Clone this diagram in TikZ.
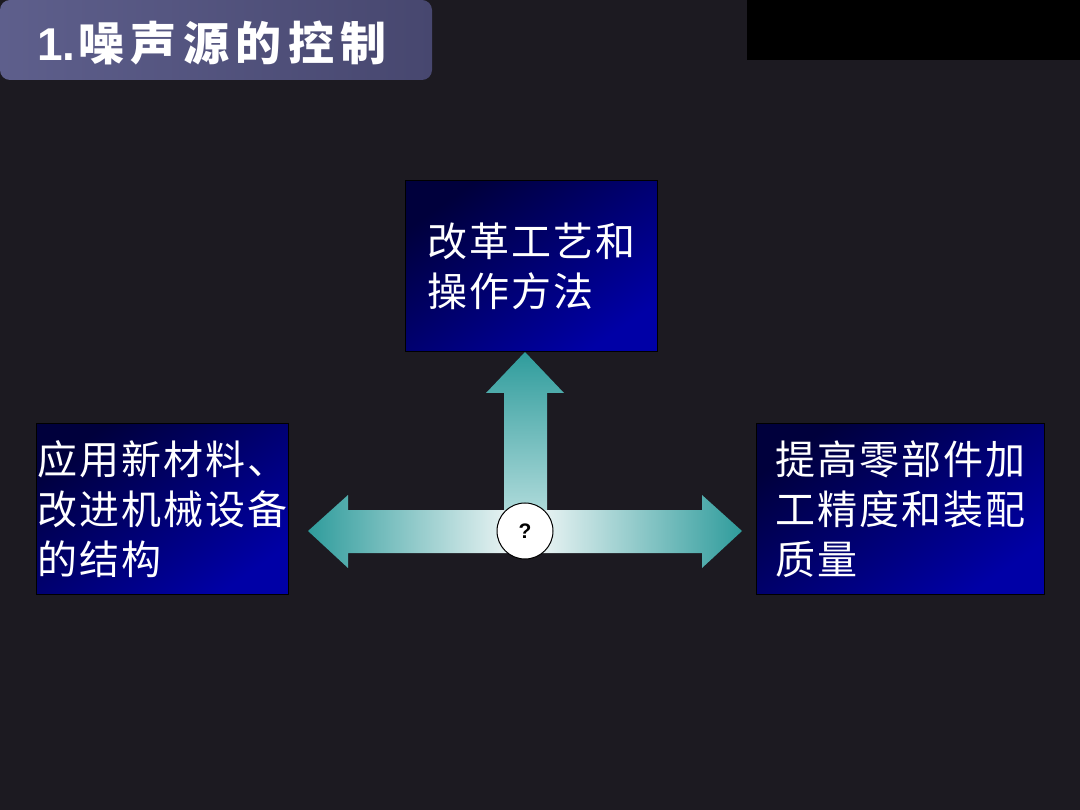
\documentclass[tikz,border=0pt]{standalone}
\usepackage{fontspec}
\setmainfont{Noto Sans CJK SC}
\newfontfamily\latinbold{Liberation Sans}
\definecolor{bgdark}{HTML}{1C1A21}
\definecolor{titleA}{HTML}{5E5F8C}
\definecolor{titleB}{HTML}{47476F}
\definecolor{navyA}{HTML}{00003C}
\definecolor{navyB}{HTML}{0000A6}
\definecolor{tealA}{HTML}{2F9C9C}
\definecolor{tealL}{HTML}{AEDADA}
\definecolor{arrowmid}{HTML}{F8FAFA}
\tikzset{
  bluebox/.style={draw=black, line width=1pt, top color=navyA, bottom color=navyB, shading angle=35,
    text=white, align=left, font=\fontsize{40}{50}\selectfont\addfontfeature{LetterSpace=5}, inner sep=0pt, anchor=north west},
}
\begin{document}
\begin{tikzpicture}[x=1pt,y=-1pt]
\useasboundingbox (0,0) rectangle (1080,810);
\fill[bgdark] (0,0) rectangle (1080,810);
% title
\shade[left color=titleA, right color=titleB, rounded corners=10pt] (0,0) rectangle (432,80);
\node[text=white, anchor=west, inner sep=0pt, font=\fontsize{46}{50}\selectfont\bfseries] (title) at (37,43)
  {{\latinbold\bfseries 1.}\hspace{3pt}{\addfontfeature{LetterSpace=14}噪声源的控制}};
% black rectangle top right
\fill[black] (747,0) rectangle (1080,60);
% boxes
\node[bluebox, minimum width=252pt, minimum height=171pt] (top) at (405,180) {改革工艺和\\操作方法};
\node[bluebox, minimum width=252pt, minimum height=171pt] (left) at (36,423) {应用新材料、\\改进机械设备\\的结构};
\node[bluebox, minimum width=288pt, minimum height=171pt] (right) at (756,423) {提高零部件加\\工精度和装配\\质量};
% vertical arrow
\shade[top color=tealA, bottom color=tealL]
  (525,352) -- (564,393) -- (547,393) -- (547,512) -- (504,512) -- (504,393) -- (486,393) -- cycle;
% horizontal double arrow
\shade[left color=tealA, right color=tealA, middle color=arrowmid]
  (308,531) -- (348,495) -- (348,510) -- (702,510) -- (702,495) -- (742,531) -- (702,568) -- (702,553)
  -- (348,553) -- (348,568) -- cycle;
% centre circle
\node[circle, draw=black, line width=1pt, fill=white, minimum size=56pt, inner sep=0pt,
  font=\latinbold\bfseries\fontsize{21}{24}\selectfont] (q) at (525,531) {?};
\end{tikzpicture}
\end{document}
